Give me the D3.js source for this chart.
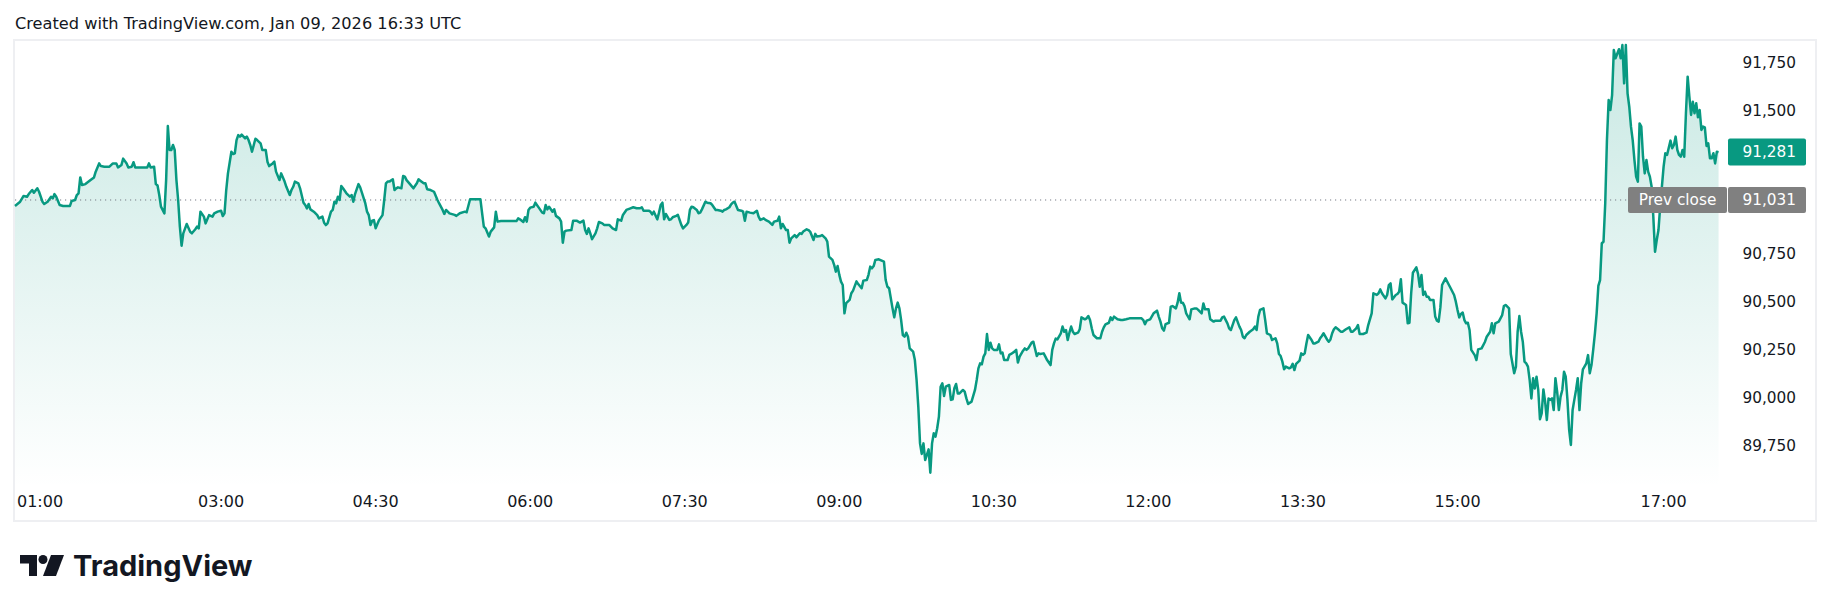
<!DOCTYPE html>
<html>
<head>
<meta charset="utf-8">
<script src="https://cdn.jsdelivr.net/npm/d3@7"></script>
<style>
  body { margin: 0; background: #ffffff; }
  svg text { font-family: "DejaVu Sans", sans-serif; }
</style>
</head>
<body>
<script>
// Data: minutes after midnight (local time) and price
const minutes = [
  60, 63, 65, 67, 68, 70, 71, 73, 74, 76, 77, 79, 81, 82, 83, 84, 86, 88, 92, 93,
  95, 96, 97, 98, 99, 101, 104, 106, 107, 109, 110, 112, 115, 117, 119, 120, 122, 123, 125, 126,
  128, 129, 130, 133, 137, 138, 139, 141, 142, 143, 144, 145, 147, 148, 149, 150, 151, 152, 153, 154,
  155, 156, 157, 158, 160, 162, 163, 165, 166, 167, 168, 170, 171, 173, 175, 176, 178, 180, 181, 182,
  183, 184, 186, 187, 188, 189, 190, 191, 192, 194, 195, 196, 197, 198, 200, 201, 203, 204, 206, 207,
  208, 210, 211, 212, 214, 215, 217, 218, 220, 221, 222, 223, 225, 226, 228, 229, 230, 231, 232, 234,
  236, 237, 239, 240, 241, 242, 244, 245, 246, 247, 248, 249, 250, 251, 253, 255, 256, 257, 258, 260,
  261, 262, 264, 265, 266, 267, 268, 269, 270, 272, 274, 275, 276, 277, 278, 280, 281, 282, 283, 285,
  286, 287, 288, 290, 292, 294, 295, 296, 298, 299, 300, 302, 304, 306, 307, 309, 310, 311, 313,
  316, 317, 319, 322, 323, 325, 327, 331, 332, 333, 334, 336, 337, 339, 340, 341, 343, 346, 352, 353,
  354, 356, 357, 358, 359, 360, 362, 363, 365, 367, 368, 369, 370, 371, 373, 374, 375, 377, 378, 379,
  380, 381, 384, 385, 387, 389, 391, 392, 393, 394, 395, 396, 398, 399, 400, 402, 403, 405, 406, 408,
  410, 411, 413, 414, 416, 418, 420, 422, 424, 425, 426, 429, 430, 431, 432, 434, 435, 436, 437, 438,
  439, 441, 442, 443, 445, 446, 447, 448, 449, 451, 452, 453, 454, 455, 457, 458, 459, 460, 462, 463,
  465, 466, 468, 469, 471, 472, 473, 474, 476, 477, 478, 479, 481, 483, 484, 485, 486, 488, 490, 492,
  493, 494, 496, 497, 499, 501, 502, 504, 505, 506, 507, 509, 510, 511, 512, 514, 515, 517, 518, 519,
  521, 522, 523, 525, 526, 527, 529, 530, 532, 533, 534, 536, 537, 538, 539, 540, 541, 542, 543, 544,
  546, 547, 548, 550, 551, 553, 554, 556, 557, 558, 559, 560, 561, 563,
  566, 567, 568, 569, 571, 572, 573, 574, 575, 576, 577, 578, 579, 580, 581, 583, 584, 585, 586, 587,
  588, 589, 590, 592, 593, 594, 595, 596, 597, 598, 599, 600, 601, 602, 604, 605, 606, 607, 608, 609,
  610, 612, 613, 614, 615, 617, 619, 620, 621, 622, 623, 624, 625, 626, 627, 628, 629, 630, 632, 633,
  634, 635, 636, 638, 639, 640, 642, 643, 644, 645, 647, 648, 649, 650, 652, 653, 655, 656, 657, 659,
  660, 661, 663, 664, 665, 666, 667, 669, 670, 671, 672, 673, 674, 675, 676, 677, 679, 680, 681, 683,
  684, 685, 686, 687, 688, 690, 692, 693, 694, 695, 697, 698, 699, 700, 702, 704, 705, 707, 709, 713,
  716, 717, 718, 719, 721, 723, 725, 726, 727, 728, 729, 730, 732, 733, 734, 736, 737, 738, 739, 740,
  741, 742, 744, 745, 747, 748, 749, 751, 752, 753, 754, 755, 756, 758, 759, 762, 763, 764, 766, 767,
  768, 769, 770, 771, 773, 774, 775, 776, 777, 779, 781, 782, 783, 784, 785, 787, 788, 789, 791, 792,
  794, 795, 796, 797, 798, 799, 800, 802, 803, 804, 805, 806, 808, 809, 810, 811, 812, 813, 815, 816,
  817, 819, 820, 821, 822, 824, 825, 826, 827, 828, 829, 831, 832,
  833, 835, 837, 838, 839, 841, 842, 843, 845, 847, 848, 850, 851, 853, 854, 855, 856, 858, 859, 860,
  861, 862, 864, 865, 866, 867, 868, 870, 871, 872, 873, 874, 876, 877, 878, 879, 880, 881, 882, 883,
  884, 886, 887, 888, 889, 890, 891, 893, 895, 896, 898, 899, 900, 901, 902, 903, 904, 905, 906, 907,
  908, 910, 911, 912, 914, 916, 917, 919, 920, 921, 922, 924, 925, 926, 927, 928, 930, 931, 933, 934,
  935, 936, 937, 938, 939, 940, 941, 942, 943, 944, 945, 946, 947, 948, 949, 950, 951, 952, 953, 954,
  955, 956, 957, 958, 959, 960, 961, 962, 963, 964, 965, 966, 967, 968, 969, 970, 971, 972, 973, 975,
  976, 977, 978, 979, 980, 981, 982, 983, 984, 985, 986, 987, 988, 989, 990, 991, 992, 994, 995, 996,
  997, 998, 999, 1000, 1001, 1002, 1003, 1004, 1005, 1006, 1007, 1008, 1009, 1010, 1011, 1012, 1013, 1014, 1015, 1016,
  1017, 1018, 1019, 1020, 1021, 1022, 1024, 1025, 1026, 1027, 1028, 1029, 1030, 1031, 1032, 1033, 1034, 1035, 1036, 1037,
  1038, 1039, 1040, 1041, 1042, 1043, 1044, 1045, 1046, 1047, 1048, 1049, 1050, 1051, 1052
];

const prices = [
  91000, 91022, 91052, 91048, 91062, 91083, 91069, 91092, 91074, 91022, 91010, 91022, 91048, 91039, 91062, 91048, 91005, 91000, 91000, 91026,
  91031, 91057, 91066, 91149, 91109, 91114, 91135, 91149, 91179, 91222, 91208, 91205, 91205, 91222, 91222, 91201, 91214, 91247, 91222, 91201,
  91205, 91228, 91201, 91201, 91201, 91222, 91201, 91205, 91114, 91107, 91057, 90996, 90961, 91135, 91417, 91292, 91292, 91318, 91292, 91135,
  91031, 90892, 90792, 90857, 90906, 90865, 90857, 90878, 90892, 90883, 90970, 90944, 90909, 90952, 90944, 90961, 90970, 90975, 90947, 90961,
  91083, 91170, 91283, 91271, 91275, 91344, 91370, 91362, 91372, 91353, 91362, 91344, 91318, 91283, 91351, 91344, 91327, 91292, 91292, 91231,
  91208, 91222, 91231, 91179, 91135, 91170, 91127, 91100, 91057, 91083, 91100, 91127, 91118, 91092, 91017, 91005, 90987, 91010, 90982, 90970,
  90952, 90935, 90944, 90912, 90900, 90909, 90970, 90979, 91022, 91013, 91048, 91031, 91104, 91092, 91066, 91048, 91057, 91022, 91062, 91114,
  91097, 91069, 91013, 90970, 90952, 90900, 90923, 90926, 90883, 90926, 90952, 91031, 91118, 91127, 91127, 91139, 91083, 91092, 91097, 91092,
  91156, 91153, 91135, 91114, 91092, 91118, 91139, 91132, 91118, 91118, 91087, 91083, 91074, 91031, 91013, 90979, 90958, 90979, 90961,
  90953, 90948, 90962, 90970, 90967, 91035, 91035, 91035, 90962, 90892, 90883, 90840, 90866, 90888, 90970, 90918, 90921, 90921, 90921, 90935,
  90930, 90916, 90941, 90918, 90979, 90991, 90996, 91017, 90991, 90965, 90962, 91005, 90982, 90996, 90970, 90982, 90948, 90935, 90918, 90808,
  90866, 90871, 90874, 90923, 90923, 90913, 90923, 90874, 90854, 90883, 90857, 90826, 90857, 90883, 90916, 90909, 90901, 90901, 90901, 90883,
  90874, 90930, 90923, 90953, 90979, 90986, 90993, 90988, 90988, 90993, 90975, 90975, 90970, 90956, 90970, 90930, 90965, 91005, 91017, 90930,
  90958, 90927, 90930, 90941, 90948, 90953, 90927, 90901, 90883, 90901, 90913, 90979, 90996, 90993, 90979, 90962, 90965, 90982, 91022, 91017,
  91014, 91005, 90979, 90979, 90975, 90970, 90979, 90982, 90993, 91008, 91017, 91022, 90979, 90975, 90970, 90923, 90970, 90965, 90962, 90975,
  90944, 90927, 90935, 90927, 90918, 90901, 90918, 90923, 90944, 90883, 90906, 90874, 90874, 90808, 90831, 90848, 90836, 90857, 90854, 90866,
  90878, 90874, 90866, 90822, 90854, 90840, 90843, 90848, 90831, 90814, 90735, 90718, 90692, 90657, 90686, 90640, 90605, 90587, 90439, 90492,
  90509, 90544, 90558, 90606, 90592, 90570, 90610, 90613, 90640, 90683, 90674, 90686, 90718, 90721,
  90709, 90613, 90578, 90570, 90465, 90418, 90465, 90495, 90465, 90404, 90326, 90317, 90338, 90317, 90256, 90239, 90195, 90091, 89952, 89760,
  89705, 89760, 89673, 89729, 89607, 89760, 89813, 89795, 89839, 89900, 90056, 90074, 90007, 90056, 90065, 89987, 89990, 90048, 90070, 90021,
  90021, 90039, 90030, 89995, 89966, 89978, 90039, 90091, 90152, 90178, 90173, 90213, 90230, 90331, 90248, 90286, 90256, 90248, 90248, 90277,
  90230, 90234, 90195, 90195, 90222, 90227, 90239, 90248, 90182, 90213, 90244, 90256, 90248, 90256, 90286, 90291, 90216, 90230, 90227, 90230,
  90213, 90195, 90169, 90248, 90282, 90307, 90303, 90335, 90370, 90343, 90352, 90300, 90338, 90370, 90343, 90331, 90338, 90356, 90418, 90408,
  90413, 90425, 90404, 90361, 90326, 90309, 90309, 90343, 90366, 90382, 90390, 90418, 90404, 90422, 90408, 90404, 90404, 90408, 90413, 90413,
  90413, 90404, 90382, 90401, 90408, 90439, 90453, 90422, 90396, 90361, 90349, 90383, 90390, 90474, 90477, 90465, 90495, 90544, 90495, 90495,
  90477, 90439, 90408, 90460, 90465, 90465, 90457, 90439, 90491, 90460, 90460, 90460, 90408, 90396, 90401, 90401, 90418, 90422, 90387, 90361,
  90352, 90378, 90404, 90418, 90370, 90352, 90317, 90309, 90326, 90343, 90356, 90370, 90352, 90422, 90457, 90465, 90404, 90335, 90326, 90300,
  90309, 90282, 90227, 90216, 90187, 90147, 90161, 90152, 90157, 90175, 90143, 90175, 90192, 90230, 90222, 90230, 90282, 90326, 90300, 90282,
  90282, 90291, 90309, 90321, 90335, 90303, 90291, 90303, 90335, 90356, 90366, 90352, 90343,
  90343, 90356, 90366, 90343, 90343, 90361, 90378, 90331, 90331, 90338, 90378, 90439, 90544, 90535, 90544, 90564, 90544, 90517, 90535, 90587,
  90596, 90512, 90535, 90540, 90552, 90617, 90495, 90483, 90387, 90390, 90544, 90651, 90679, 90645, 90578, 90639, 90535, 90552, 90526, 90526,
  90509, 90509, 90422, 90401, 90396, 90470, 90587, 90622, 90587, 90570, 90535, 90500, 90456, 90418, 90436, 90443, 90404, 90387, 90390, 90352,
  90248, 90221, 90195, 90251, 90256, 90291, 90317, 90343, 90387, 90335, 90387, 90396, 90413, 90430, 90477, 90483, 90465, 90227, 90126, 90161,
  90343, 90425, 90343, 90291, 90187, 90178, 90161, 90091, 89995, 90100, 90047, 90108, 90039, 89886, 89917, 90042, 89978, 89882, 89995, 89987,
  89995, 89934, 90100, 90030, 89934, 90004, 90039, 90134, 90108, 89987, 89830, 89752, 89934, 89987, 90039, 90100, 89934, 90074, 90147, 90178,
  90221, 90126, 90169, 90248, 90335, 90439, 90582, 90613, 90805, 90813, 91013, 91344, 91553, 91501, 91579, 91814, 91771, 91818, 91771, 91840,
  91640, 91840, 91588, 91518, 91414, 91344, 91240, 91153, 91127, 91431, 91414, 91257, 91170, 91240, 91179, 91153, 91101, 90944, 90761, 90822,
  90874, 90996, 91101, 91205, 91275, 91266, 91341, 91301, 91318, 91362, 91292, 91266, 91257, 91292, 91257, 91484, 91675, 91571, 91475, 91544,
  91484, 91536, 91463, 91501, 91397, 91414, 91410, 91313, 91327, 91249, 91249, 91275, 91222, 91283, 91281
];

const prevClose = 91031;
const lastPrice = 91281;
const priceTicks = [89750, 90000, 90250, 90500, 90750, 91000, 91250, 91500, 91750];
const timeTicks = [60, 180, 270, 360, 450, 540, 630, 720, 810, 900, 1020];
const timeLabels = ["01:00", "03:00", "04:30", "06:00", "07:30", "09:00", "10:30", "12:00", "13:30", "15:00", "17:00"];
const headerText = "Created with TradingView.com, Jan 09, 2026 16:33 UTC";

const green = "#089981";
const grey = "#808080";
const textColor = "#131722";

let svg = '';

window.onload = function () {
  svg = d3.select('body')
    .append('svg')
    .attr('width', 1830)
    .attr('height', 611);
  drawChart();
}

function drawChart() {
  const data = minutes.map((m, i) => ({ t: m, v: prices[i] }));

  // pane geometry
  const pane = { left: 15, right: 1722, top: 41, bottom: 488 };

  let xScale = d3.scaleLinear()
    .domain([60, 1054])
    .range([pane.left, pane.right]);

  let yScale = d3.scaleLinear()
    .domain([89750, 91750])
    .range([445.3, 62.3]);

  // header
  svg.append('text')
    .attr('x', 15)
    .attr('y', 29)
    .style('font-size', '16.2px')
    .attr('fill', textColor)
    .text(headerText);

  // frame
  svg.append('rect')
    .attr('x', 14)
    .attr('y', 40)
    .attr('width', 1802)
    .attr('height', 481)
    .attr('fill', 'none')
    .attr('stroke', '#eeeff2')
    .attr('stroke-width', 2);

  // area gradient
  let defs = svg.append('defs');
  let grad = defs.append('linearGradient')
    .attr('id', 'areaFill')
    .attr('gradientUnits', 'userSpaceOnUse')
    .attr('x1', 0).attr('x2', 0)
    .attr('y1', yScale(d3.max(prices)))
    .attr('y2', pane.bottom);
  grad.append('stop').attr('offset', 0).attr('stop-color', green).attr('stop-opacity', 0.22);
  grad.append('stop').attr('offset', 1).attr('stop-color', green).attr('stop-opacity', 0.0);

  let area = d3.area()
    .x(d => xScale(d.t))
    .y0(pane.bottom)
    .y1(d => yScale(d.v));

  svg.append('path')
    .datum(data)
    .attr('d', area)
    .attr('fill', 'url(#areaFill)');

  // previous close dotted line
  svg.append('line')
    .attr('x1', pane.left)
    .attr('x2', 1628)
    .attr('y1', yScale(prevClose))
    .attr('y2', yScale(prevClose))
    .attr('stroke', '#787b86')
    .attr('stroke-width', 1)
    .style('stroke-dasharray', '1.2, 3.8');

  let line = d3.line()
    .x(d => xScale(d.t))
    .y(d => yScale(d.v));

  svg.append('path')
    .datum(data)
    .attr('d', line)
    .attr('fill', 'none')
    .attr('stroke', green)
    .attr('stroke-width', 2.5)
    .attr('stroke-linejoin', 'round');

  drawPriceAxis(yScale);
  drawTimeAxis(xScale, pane);
  drawLogo();
}

function drawPriceAxis(yScale) {
  const fmt = d3.format(',');
  const labelX = 1796;

  // hide ticks covered by the price labels
  let ticks = priceTicks.filter(p =>
    Math.abs(yScale(p) - yScale(lastPrice)) > 20 &&
    Math.abs(yScale(p) - yScale(prevClose)) > 20);

  svg.append('g')
    .selectAll('text')
    .data(ticks)
    .enter()
    .append('text')
    .attr('x', labelX)
    .attr('y', d => yScale(d))
    .attr('dy', '0.35em')
    .attr('text-anchor', 'end')
    .attr('fill', textColor)
    .style('font-size', '15.3px')
    .text(d => fmt(d));

  // last price tag
  let yl = yScale(lastPrice);
  svg.append('rect')
    .attr('x', 1728).attr('y', yl - 13.5)
    .attr('width', 78).attr('height', 27)
    .attr('rx', 2)
    .attr('fill', green);
  svg.append('text')
    .attr('x', labelX).attr('y', yl)
    .attr('dy', '0.35em')
    .attr('text-anchor', 'end')
    .attr('fill', 'white')
    .style('font-size', '15.3px')
    .text(fmt(lastPrice));

  // prev close tag
  let yp = yScale(prevClose);
  svg.append('rect')
    .attr('x', 1628).attr('y', yp - 13)
    .attr('width', 99).attr('height', 26)
    .attr('rx', 2)
    .attr('fill', grey);
  svg.append('rect')
    .attr('x', 1728).attr('y', yp - 13)
    .attr('width', 78).attr('height', 26)
    .attr('rx', 2)
    .attr('fill', grey);
  svg.append('text')
    .attr('x', 1677.5).attr('y', yp)
    .attr('dy', '0.35em')
    .attr('text-anchor', 'middle')
    .attr('fill', 'white')
    .style('font-size', '15.3px')
    .text('Prev close');
  svg.append('text')
    .attr('x', labelX).attr('y', yp)
    .attr('dy', '0.35em')
    .attr('text-anchor', 'end')
    .attr('fill', 'white')
    .style('font-size', '15.3px')
    .text(fmt(prevClose));
}

function drawTimeAxis(xScale, pane) {
  let g = svg.append('g');
  timeTicks.forEach((t, i) => {
    let txt = g.append('text')
      .attr('y', 507)
      .attr('fill', textColor)
      .style('font-size', '16px')
      .text(timeLabels[i]);
    let w = txt.node().getComputedTextLength();
    // keep the label inside the pane
    let x = Math.max(xScale(t) - w / 2, pane.left + 2);
    txt.attr('x', x);
  });
}

function drawLogo() {
  let logo = svg.append('g').attr('fill', '#131722');
  // "T" shape
  logo.append('path')
    .attr('d', 'M20,555 H37 V576 H29 V563.5 H20 Z');
  // dot
  logo.append('circle')
    .attr('cx', 43).attr('cy', 559.5).attr('r', 4.5);
  // slash
  logo.append('path')
    .attr('d', 'M51,555 H64 L56,576 H43 Z');

  svg.append('text')
    .attr('x', 73)
    .attr('y', 576)
    .attr('fill', '#131722')
    .style('font-family', 'Inter, sans-serif')
    .style('font-weight', '700')
    .style('font-size', '29px')
    .text('TradingView');
}
</script>
</body>
</html>
